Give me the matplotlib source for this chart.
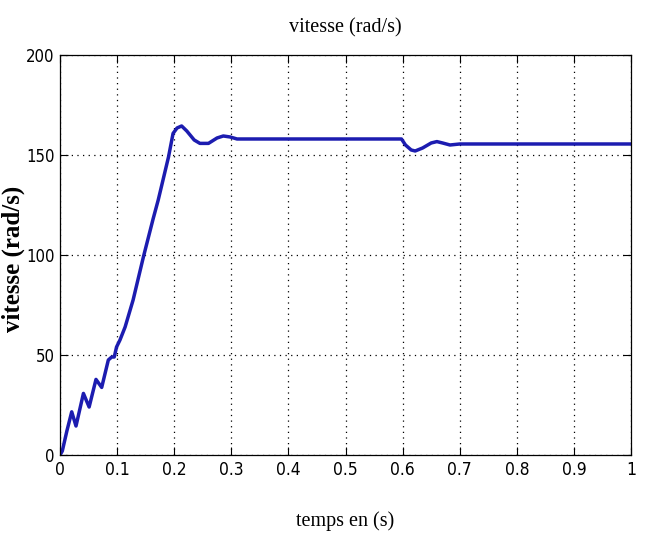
import matplotlib.pyplot as plt

# temps (s) et vitesse (rad/s)
temps = [0, 0.004, 0.012, 0.0205, 0.028, 0.041, 0.051, 0.063, 0.073, 0.0846,
         0.0905, 0.095, 0.099, 0.105, 0.114, 0.128, 0.146, 0.163, 0.172, 0.19,
         0.198, 0.205, 0.213, 0.222, 0.235, 0.245, 0.26, 0.275, 0.286, 0.298,
         0.31, 0.33, 0.4, 0.5, 0.598, 0.605, 0.615, 0.622, 0.635, 0.65, 0.66,
         0.67, 0.683, 0.7, 0.8, 0.9, 1.0]
vitesse = [0, 2, 12, 21.6, 14.5, 30.8, 24, 37.8, 33.8, 47.5,
           49, 49, 54, 57.5, 64, 77.5, 99, 118, 127.5, 149,
           160.8, 163.5, 164.5, 162, 157.5, 155.8, 155.8, 158.5, 159.5, 159,
           158, 158, 158, 158, 158, 155, 152.5, 152, 153.5, 156, 156.7,
           156, 155, 155.5, 155.5, 155.5, 155.5]

xticks = [0, 0.1, 0.2, 0.3, 0.4, 0.5, 0.6, 0.7, 0.8, 0.9, 1]
xtick_labels = ['0', '0.1', '0.2', '0.3', '0.4', '0.5', '0.6', '0.7', '0.8', '0.9', '1']
yticks = [0, 50, 100, 150, 200]

serif = ['Liberation Serif', 'DejaVu Serif']

fig = plt.figure(figsize=(6.46, 5.39), dpi=100)
ax = fig.add_axes([0.0929, 0.1558, 0.8839, 0.7422])

ax.plot(temps, vitesse, color='#1c1cb0', linewidth=2.5)

ax.set_xlim(0, 1)
ax.set_ylim(0, 200)
ax.set_xticks(xticks)
ax.set_xticklabels(xtick_labels, family='DejaVu Sans', fontstretch='condensed', fontsize=12.5)
ax.set_yticks(yticks)
ax.set_yticklabels([str(y) for y in yticks], family='DejaVu Sans', fontstretch='condensed', fontsize=12)
ax.tick_params(direction='in', length=6, top=True, right=True, width=0.8, pad=4)

ax.grid(True, color='black', linestyle=(0, (1, 3.5)), linewidth=0.9)
for s in ax.spines.values():
    s.set_linewidth(0.9)

ax.set_title('vitesse (rad/s)', family=serif, fontsize=14.5, pad=16)
ax.set_xlabel('temps en (s)', family=serif, fontsize=14.5)
ax.xaxis.set_label_coords(0.5, -0.14)
ax.set_ylabel('vitesse (rad/s)', family=serif, fontsize=18, fontweight='bold')
ax.yaxis.set_label_coords(-0.062, 0.49)

fig.savefig('out.png', dpi=100)
